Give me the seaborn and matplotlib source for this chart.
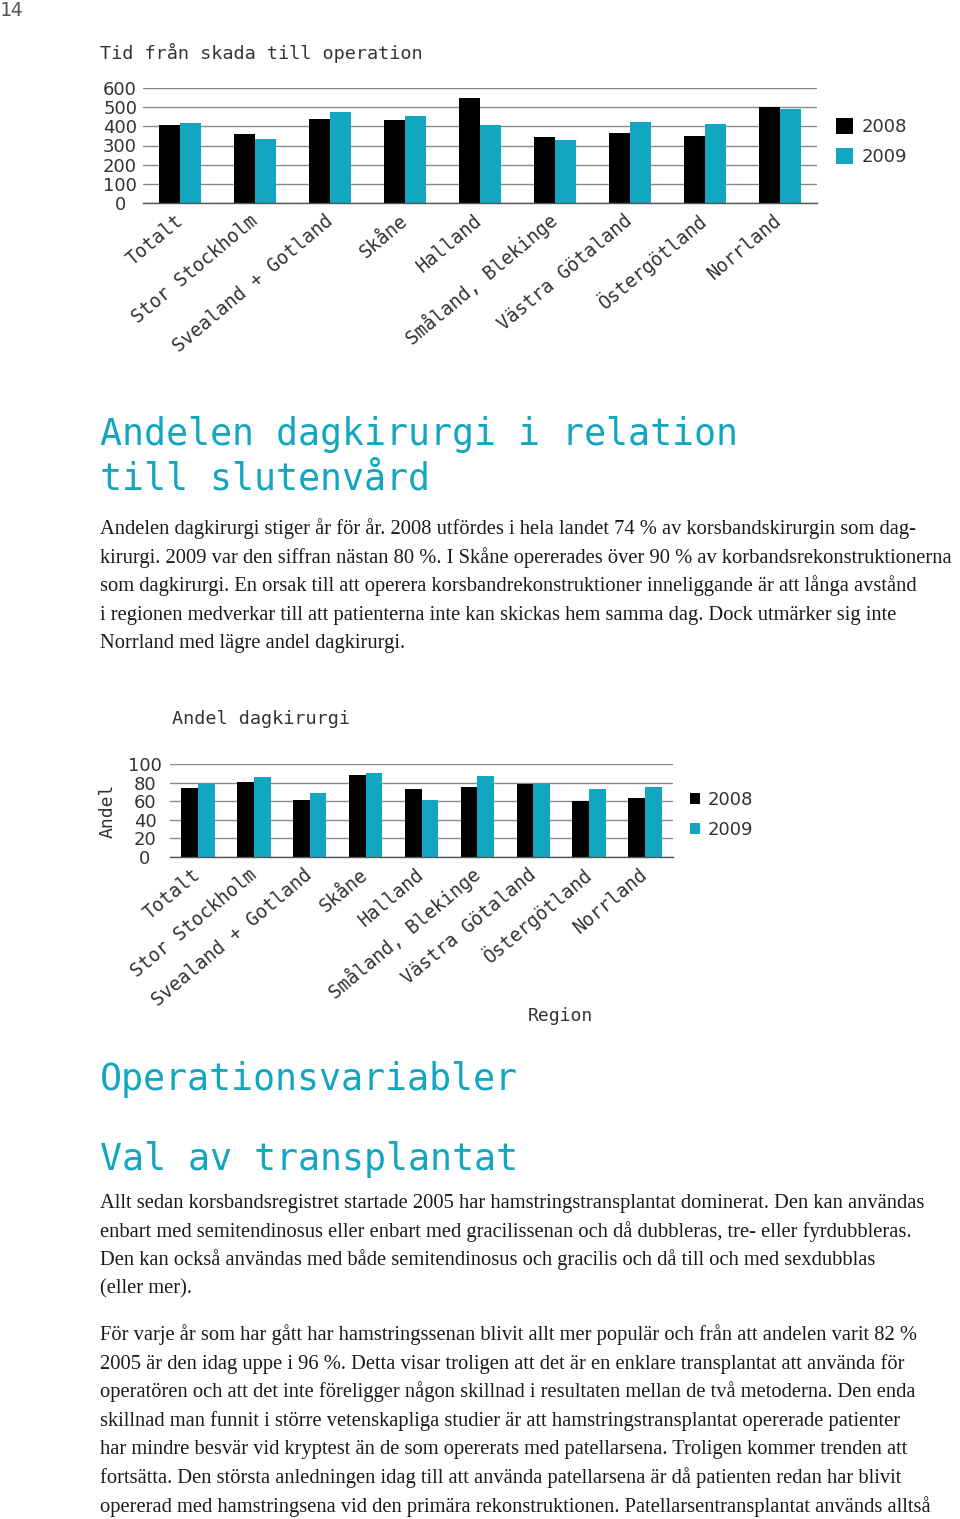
import numpy as np
import pandas as pd
import matplotlib
matplotlib.use("Agg")
import matplotlib.pyplot as plt
import seaborn as sns

# ---------------------------
# Data
# ---------------------------
regions = ["Totalt", "Stor Stockholm", "Svealand + Gotland", "Skåne", "Halland",
           "Småland, Blekinge", "Västra Götaland", "Östergötland", "Norrland"]
years = ["2008", "2009"]

tid_2008 = [409, 361, 437, 432, 550, 346, 366, 352, 503]
tid_2009 = [416, 333, 473, 453, 409, 331, 421, 414, 490]

andel_2008 = [74, 81, 61, 88, 73, 75, 79, 60, 63]
andel_2009 = [79, 86, 69, 90, 61, 87, 78, 73, 75]

tid_ticks = [0, 100, 200, 300, 400, 500, 600]
andel_ticks = [0, 20, 40, 60, 80, 100]

para1 = [
    "Andelen dagkirurgi stiger år för år. 2008 utfördes i hela landet 74 % av korsbandskirurgin som dag-",
    "kirurgi. 2009 var den siffran nästan 80 %. I Skåne opererades över 90 % av korbandsrekonstruktionerna",
    "som dagkirurgi. En orsak till att operera korsbandrekonstruktioner inneliggande är att långa avstånd",
    "i regionen medverkar till att patienterna inte kan skickas hem samma dag. Dock utmärker sig inte",
    "Norrland med lägre andel dagkirurgi.",
]
para2 = [
    "Allt sedan korsbandsregistret startade 2005 har hamstringstransplantat dominerat. Den kan användas",
    "enbart med semitendinosus eller enbart med gracilissenan och då dubbleras, tre- eller fyrdubbleras.",
    "Den kan också användas med både semitendinosus och gracilis och då till och med sexdubblas",
    "(eller mer).",
]
para3 = [
    "För varje år som har gått har hamstringssenan blivit allt mer populär och från att andelen varit 82 %",
    "2005 är den idag uppe i 96 %. Detta visar troligen att det är en enklare transplantat att använda för",
    "operatören och att det inte föreligger någon skillnad i resultaten mellan de två metoderna. Den enda",
    "skillnad man funnit i större vetenskapliga studier är att hamstringstransplantat opererade patienter",
    "har mindre besvär vid kryptest än de som opererats med patellarsena. Troligen kommer trenden att",
    "fortsätta. Den största anledningen idag till att använda patellarsena är då patienten redan har blivit",
    "opererad med hamstringsena vid den primära rekonstruktionen. Patellarsentransplantat används alltså",
]

TEAL = "#12a6c0"
DARK = "#333333"
MONO = "DejaVu Sans Mono"
SERIF = "Liberation Serif"

sns.set_style("white")
plt.rcParams["font.family"] = ["DejaVu Sans"]

W, H = 960, 1519
fig = plt.figure(figsize=(W / 100, H / 100), dpi=100)


def fx(x):
    return x / W


def fy(y):
    return 1 - y / H


def bar_chart(rect, v08, v09, yticks, width, tick_pad, legend_xy, handle):
    df = pd.DataFrame({
        "Region": regions * 2,
        "Värde": v08 + v09,
        "År": [years[0]] * len(regions) + [years[1]] * len(regions),
    })
    ax = fig.add_axes(rect)
    sns.barplot(data=df, x="Region", y="Värde", hue="År", palette=["black", TEAL],
                width=width, linewidth=0, saturation=1, ax=ax)
    ax.set_xlim(-0.5, len(regions) - 0.5)
    ax.set_ylim(yticks[0], yticks[-1])
    ax.set_yticks(yticks)
    ax.set_yticklabels([str(t) for t in yticks], fontsize=13, color=DARK)
    for lbl in ax.get_yticklabels():
        lbl.set_ha("center")
    ax.tick_params(axis="y", length=2.5, width=1, color="#888888", pad=tick_pad)
    ax.set_xticks(range(len(regions)))
    ax.set_xticklabels(regions, rotation=40, ha="right", va="center",
                       rotation_mode="anchor", family=MONO, fontsize=13.5, color=DARK)
    ax.set_xticks(np.arange(-0.5, len(regions), 1), minor=True)
    ax.tick_params(axis="x", which="major", length=0, pad=11)
    ax.tick_params(axis="x", which="minor", length=4, width=1, color="#555555")
    ax.yaxis.grid(True, color="#8a8a8a", lw=1)
    ax.set_axisbelow(True)
    for s in ["top", "right", "left"]:
        ax.spines[s].set_visible(False)
    ax.spines["bottom"].set_color("#555555")
    ax.spines["bottom"].set_linewidth(1)
    ax.set_xlabel("")
    ax.set_ylabel("")
    handles, labels = ax.get_legend_handles_labels()
    ax.legend(handles, labels, loc="upper left", bbox_to_anchor=legend_xy,
              bbox_transform=fig.transFigure, frameon=False, fontsize=13,
              labelcolor=DARK, handlelength=handle, handleheight=handle,
              handletextpad=0.45, labelspacing=0.68, borderaxespad=0, borderpad=0)
    return ax


# ---------------------------
# Chart 1: Tid från skada till operation
# ---------------------------
ax1 = bar_chart([fx(143), fy(203), (817 - 143) / W, (203 - 88) / H],
                tid_2008, tid_2009, tid_ticks, 0.56, 14,
                (fx(836), fy(118)), 0.95)
fig.text(fx(100), fy(53), "Tid från skada till operation", family=MONO,
         fontsize=13.3, color=DARK, va="center")

# ---------------------------
# Chart 2: Andel dagkirurgi
# ---------------------------
ax2 = bar_chart([fx(170), fy(857), (673 - 170) / W, (857 - 764) / H],
                andel_2008, andel_2009, andel_ticks, 0.6, 15.5,
                (fx(690), fy(791)), 0.55)
ax2.set_ylabel("Andel", family=MONO, fontsize=13, color=DARK)
ax2.yaxis.set_label_coords((108 - 170) / (673 - 170), 0.5)
ax2.yaxis.label.set_va("center")
ax2.set_xlabel("Region", family=MONO, fontsize=13, color=DARK)
ax2.xaxis.set_label_coords((560 - 170) / (673 - 170), -(1016 - 857) / (857 - 764))
ax2.xaxis.label.set_va("center")
fig.text(fx(172), fy(719), "Andel dagkirurgi", family=MONO,
         fontsize=13.3, color=DARK, va="center")

# ---------------------------
# Page text
# ---------------------------
fig.text(0, fy(11), "14", family=MONO, fontsize=14, color="#555555", va="center")

for txt, base in [("Andelen dagkirurgi i relation", 445), ("till slutenvård", 489),
                  ("Operationsvariabler", 1090), ("Val av transplantat", 1170)]:
    fig.text(fx(100), fy(base), txt, family=MONO, fontsize=26.4, color=TEAL, va="baseline")

for lines, first in [(para1, 534), (para2, 1208), (para3, 1340)]:
    for i, line in enumerate(lines):
        fig.text(fx(100), fy(first + i * 28.6), line, family=SERIF, fontsize=14.8,
                 color="#1a1a1a", va="baseline")

fig.savefig("out.png", dpi=100)
